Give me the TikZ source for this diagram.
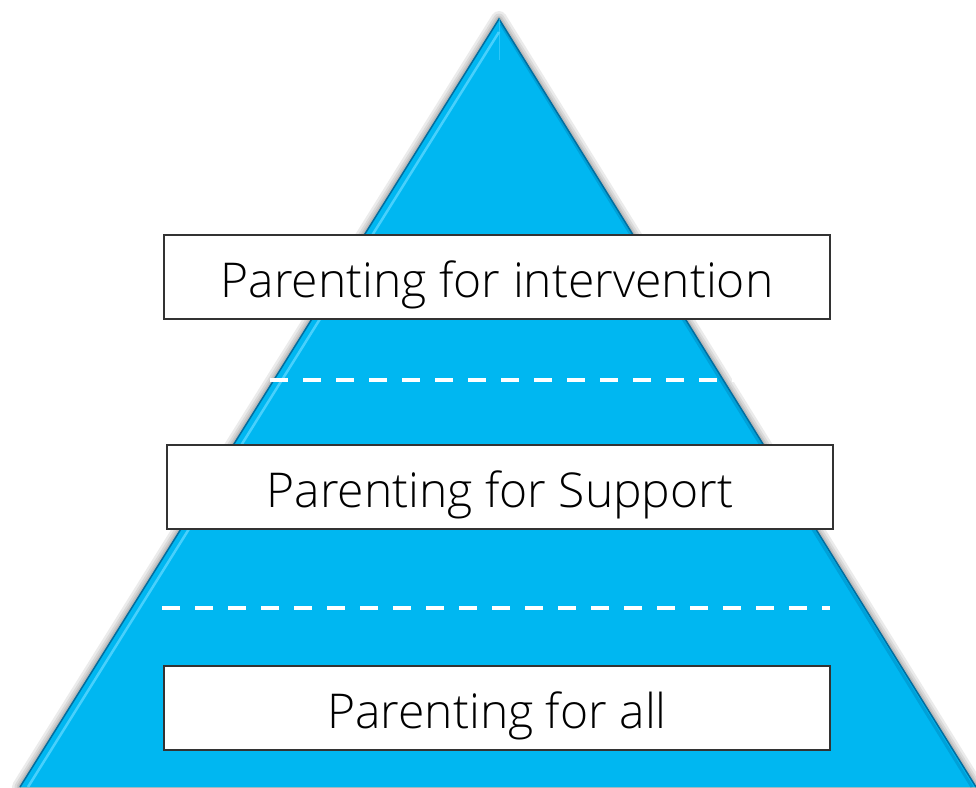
\documentclass[tikz,border=0pt]{standalone}
\usepackage{fontspec}
\setmainfont{Open Sans}[UprightFont=* Light]
\usepackage{tikz}
\usetikzlibrary{positioning}
\definecolor{pyrblue}{RGB}{0,183,241}
\definecolor{pyrrim}{RGB}{0,110,160}
\definecolor{pyrlight}{RGB}{90,215,255}

\begin{document}
\begin{tikzpicture}[
    x=1pt, y=-1pt,
    level/.style={draw=black!80, line width=1.3pt, fill=white, minimum width=666pt, minimum height=84pt, font=\fontsize{48}{52}\selectfont, text height=40pt, text depth=0pt, inner sep=0pt},
    split/.style={white, line width=4pt, dash pattern=on 18pt off 15pt}
]
\useasboundingbox (0,0) rectangle (976,787);

% pyramid corners
\coordinate (top) at (499,19);
\coordinate (bl) at (20,787);
\coordinate (br) at (976,787);

% soft shadow
\foreach \w in {16,11,7,4}
  \draw[black, opacity=0.08, line width=\w pt, line join=round, shift={(4pt,-3pt)}] (top) -- (bl) -- (br) -- cycle;

% body with a bevelled rim
\fill[pyrblue] (top) -- (bl) -- (br) -- cycle;
\draw[pyrrim, line width=1.5pt] (bl) -- (top) -- (br);
\draw[pyrrim, line width=3pt, opacity=0.3] (501,24) -- (972,787);
\draw[pyrlight, line width=2.5pt, opacity=0.8] (28,787) -- (499,32);
\draw[pyrlight, line width=1pt, opacity=0.5] (top) -- (499,60);

% dividers
\draw[split] (270,380) coordinate (d1a) -- (735,380) coordinate (d1b);
\draw[split] (162,608) coordinate (d2a) -- (830,608) coordinate (d2b);

% levels
\node[level] (interv) at (497,277) {Parenting for intervention};
\node[level] (support) at (500,487) {Parenting for Support};
\node[level] (all) at (497,708) {Parenting for all};

\end{tikzpicture}
\end{document}
